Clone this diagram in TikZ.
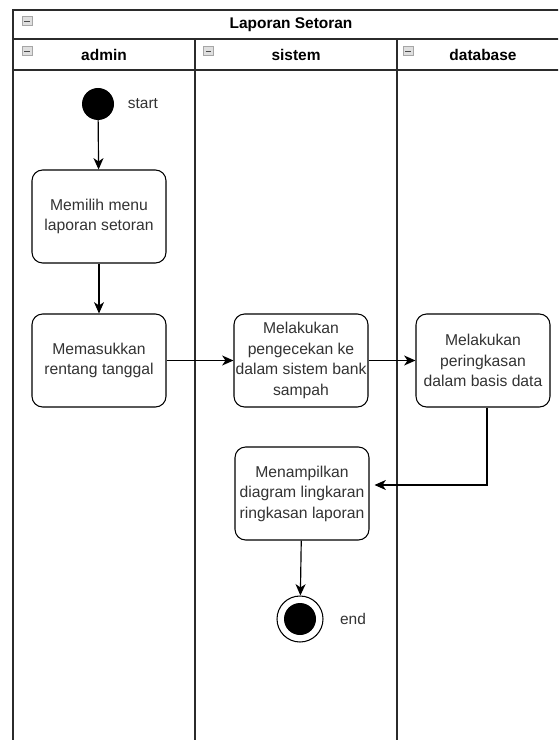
\documentclass[tikz,border=0pt]{standalone}
\usepackage{fontspec}
\setmainfont{Liberation Sans}
\usetikzlibrary{arrows.meta,calc}
\definecolor{txtgray}{HTML}{333333}
\definecolor{linegray}{HTML}{2B2B2B}
\tikzset{
%Define standard arrow tip
>={Stealth[length=0.34cm, width=0.3cm, inset=0.1cm]},
%Define styles for the swimlanes
lane line/.style={draw=linegray, line width=1.1pt},
lane title/.style={font=\fontsize{13.2}{16}\selectfont\bfseries, text=black},
collapse/.style={draw=gray!70, fill=gray!25, minimum width=0.29cm, minimum height=0.27cm, inner sep=0pt,
  path picture={\draw[gray!60!black, line width=0.8pt]
  ([xshift=1.8pt]path picture bounding box.west) -- ([xshift=-1.8pt]path picture bounding box.east);}},
%Define styles for the activities
action/.style={draw=black, line width=0.9pt, rounded corners=0.32cm, fill=white,
  minimum width=4.02cm, minimum height=2.79cm, inner sep=1pt, align=center,
  font=\fontsize{13.4}{17.5}\selectfont, text=txtgray},
initial/.style={circle, fill=black, minimum size=0.96cm, inner sep=0pt},
final ring/.style={circle, draw=black, line width=0.9pt, minimum size=1.38cm, inner sep=0pt},
note/.style={font=\fontsize{13.2}{16}\selectfont, text=txtgray},
flow/.style={->, line width=1pt},
}

\begin{document}
\begin{tikzpicture}[x=0.03cm, y=-0.03cm]
    % Canvas, the frame runs past the right and the bottom edge
    \useasboundingbox (0,0) rectangle (558,740);
    \clip (0,0) rectangle (558,740);

    % Swimlanes
    \draw[lane line] (13,10) rectangle (569,760);
    \draw[lane line] (13,39) -- (569,39);
    \draw[lane line] (13,70) -- (569,70);
    \draw[lane line] (195,39) -- (195,760);
    \draw[lane line] (397,39) -- (397,760);

    \node[lane title] (pool) at (291,24.5) {Laporan Setoran};
    \node[lane title] (admin) at (104,55) {admin};
    \node[lane title] (sistem) at (296,55) {sistem};
    \node[lane title] (database) at (483,55) {database};

    \node[collapse] (poolicon) at (27,21) {};
    \node[collapse] (adminicon) at (27,51) {};
    \node[collapse] (sistemicon) at (208.5,51) {};
    \node[collapse] (databaseicon) at (408,51) {};

    % Activities
    \node[initial] (start) at (98,104) {};
    \node[note] (startlabel) at (143,104) {start};

    \node[action] (pilih) at (99,216.5) {Memilih menu\\laporan setoran};
    \node[action] (tanggal) at (99,360.5) {Memasukkan\\rentang tanggal};
    \node[action] (cek) at (301,360.5) {Melakukan\\pengecekan ke\\dalam sistem bank\\sampah};
    \node[action] (ringkas) at (483,360.5) {Melakukan\\peringkasan\\dalam basis data};
    \node[action] (tampil) at (302,493.5) {Menampilkan\\diagram lingkaran\\ringkasan laporan};

    \node[final ring] (end) at (300,619) {};
    \node[initial] (endcore) at (300,619) {};
    \node[note] (endlabel) at (353,619) {end};

    % Control flow
    \coordinate (turn) at (487,485);
    \draw[flow] (start) -- (pilih);
    \draw[flow] (pilih) -- (tanggal);
    \draw[flow] (tanggal) -- (cek);
    \draw[flow] (cek) -- (ringkas);
    \draw[flow] (ringkas.south -| turn) -- (turn) -- ([xshift=0.15cm]turn -| tampil.east);
    \draw[flow] (tampil) -- (end);
\end{tikzpicture}
\end{document}
